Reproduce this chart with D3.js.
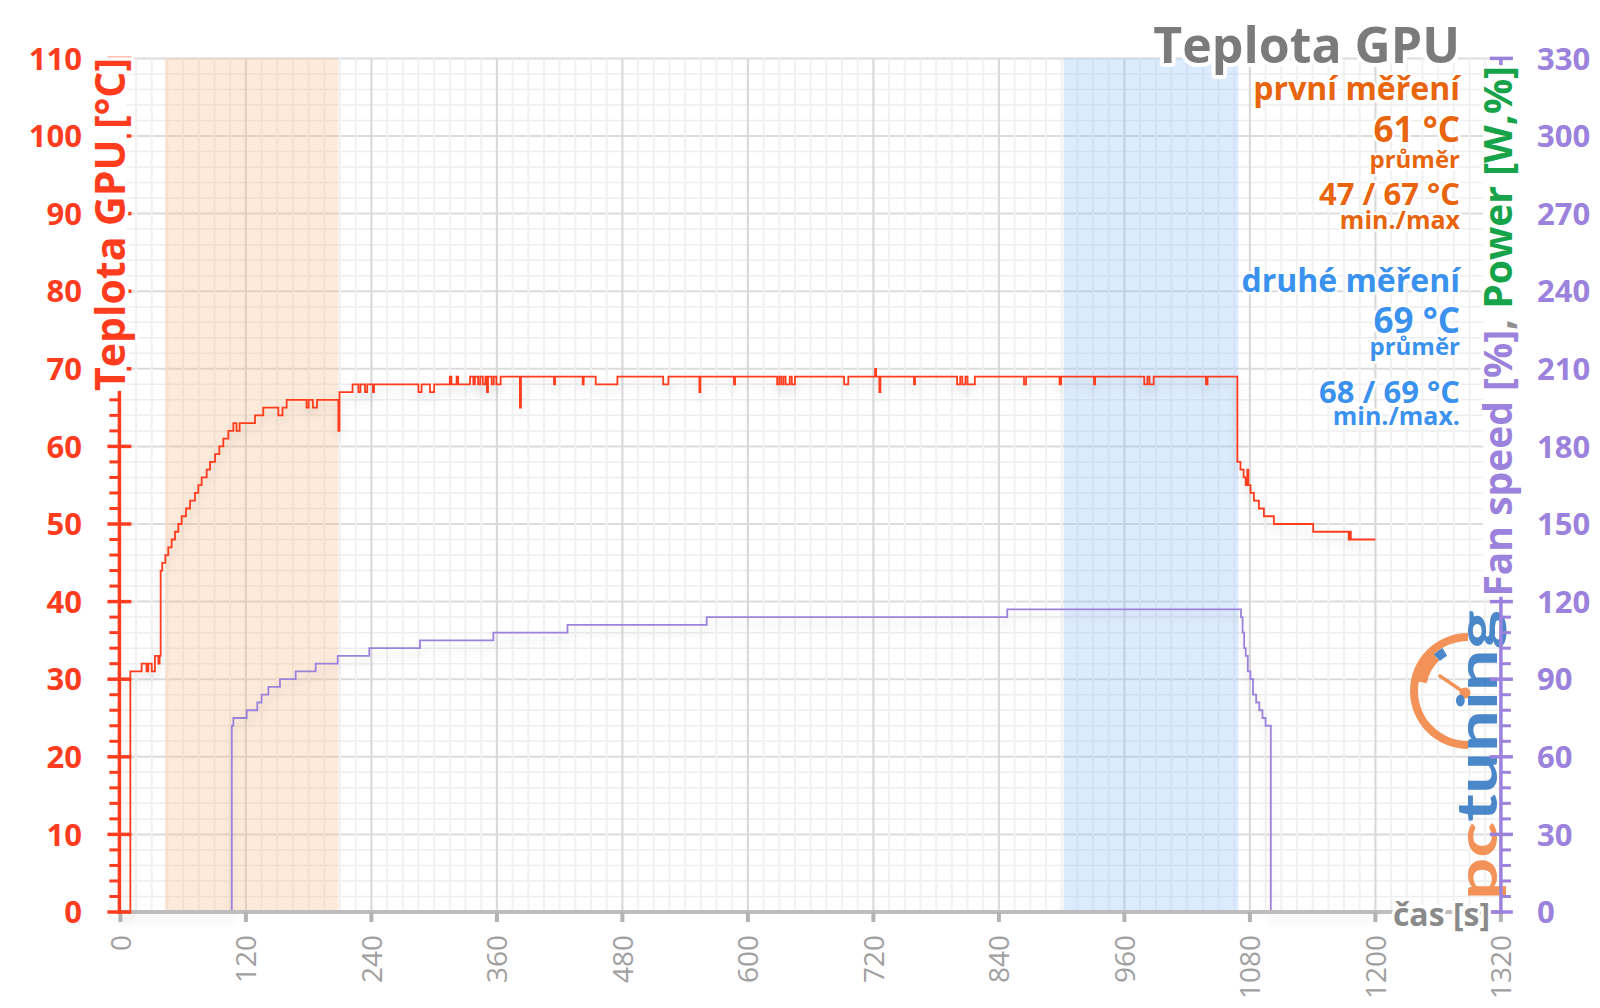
<!DOCTYPE html>
<html><head><meta charset="utf-8">
<script src="https://cdn.jsdelivr.net/npm/d3@7/dist/d3.min.js"></script>
<style>html,body{margin:0;padding:0;background:#fff;} svg{display:block;font-family:"Open Sans",Lato,sans-serif;}</style>
</head><body><svg id="chart" width="1600" height="1008"></svg>
<script>
// ---- data ----
const tempTime = [0,9.5,20.3,25,26.7,30,33,36.3,37.5,38.5,40,43,45.8,49,52.2,55.4,58.6,62.7,66.6,71.3,74.5,77.7,82.5,85.7,90.5,94.6,98.4,103.2,108,111,114,128.7,136.6,151,155,159,178,180,184,188,208.4,209.5,222,227.5,229.5,233.9,236,241.5,242.5,285,288,296,300,315,316.5,321.5,323,334.3,337.5,339,342,344,346.5,349,350.5,351.5,355,357,359.5,363.6,382,383,414.6,415.6,442,443,454.5,475.2,519,524,553.6,554.6,586.7,587.7,628,630,632,634,636,640,642,645,692,696,721.6,722.6,725.7,726.7,758.8,759.8,800,803,805,808,810,817,864,866,898,899.5,931,932,979,982,984,988,1038,1039.5,1068,1071,1074,1076,1077.5,1078.5,1080.6,1083.8,1088.6,1093.4,1102.9,1140.5,1174.5,1175.5,1176.5,1200];
const tempValue = [0,31,32,31,32,31,33,32,33,44,45,46,47,48,49,50,51,52,53,54,55,56,57,58,59,60,61,62,63,62,63,64,65,64,65,66,65,66,65,66,62,67,68,67,68,67,68,67,68,67,68,67,68,69,68,69,68,69,68,69,68,69,68,69,67,69,68,69,68,69,65,69,68,69,68,69,68,69,68,69,67,69,68,69,68,69,68,69,68,69,68,69,68,69,70,69,67,69,68,69,68,69,68,69,68,69,68,69,68,69,68,69,68,69,68,69,68,69,58,57,56,55,57,55,54,53,52,51,50,49,48,49,48,48];
// fan speed, in units of the right axis
const fanTime = [0,106.5,108,120.8,130.9,135,141.5,152.6,167.6,186.7,207.8,238,286.5,356.6,427.5,560.6,848,1071.5,1073,1074.5,1076,1078,1080.5,1083,1086,1089,1092,1095,1100,1200];
const fanValue = [0,72,75,78,81,84,87,90,93,96,99,102,105,108,111,114,117,114,108,102,99,93,90,84,81,78,75,72,0,0];
const xTicks = [0,120,240,360,480,600,720,840,960,1080,1200,1320];
const leftTicks = [0,10,20,30,40,50,60,70,80,90,100,110];
const rightTicks = [0,30,60,90,120,150,180,210,240,270,300,330];
const bandFirst = [42.5,208.5];
const bandSecond = [902,1069];
const legendFirst = ["první měření","61 °C","průměr","47 / 67 °C","min./max"];
const legendSecond = ["druhé měření","69 °C","průměr","68 / 69 °C","min./max."];
const titleText = "Teplota GPU";

// ---- colours ----
const RED = "#ff3c1e", PURPLE = "#9b82dc", ORANGE = "#e8650e", BLUE = "#3b92ee", GREEN = "#16a34a", GRAY = "#7b7b7b";

const svg = d3.select("#chart");
const x = d3.scaleLinear().domain([0,1320]).range([120.4,1500.9]);
const yL = d3.scaleLinear().domain([0,110]).range([912,58.4]);
const yR = d3.scaleLinear().domain([0,330]).range([912,58.4]);

const defs = svg.append("defs");
const f = defs.append("filter").attr("id","shadow").attr("x","-5%").attr("y","-20%").attr("width","110%").attr("height","160%");
f.append("feDropShadow").attr("dx",0).attr("dy",7).attr("stdDeviation",5).attr("flood-color","#000").attr("flood-opacity",0.13);

// grid
const grid = svg.append("g");
grid.selectAll(".hmin").data(d3.range(0,111,2).filter(v=>v%10)).join("line")
  .attr("x1",x(0)).attr("x2",x(1320)).attr("y1",d=>yL(d)).attr("y2",d=>yL(d))
  .attr("stroke","#eeeeee").attr("stroke-width",1.5);
grid.selectAll(".hmaj").data(leftTicks.slice(1)).join("line")
  .attr("x1",x(0)).attr("x2",x(1320)).attr("y1",d=>yL(d)).attr("y2",d=>yL(d))
  .attr("stroke","#dcdcdc").attr("stroke-width",2);
grid.selectAll(".vmin").data(d3.range(0,1321,15).filter(v=>v%120)).join("line")
  .attr("x1",d=>x(d)).attr("x2",d=>x(d)).attr("y1",yL(0)).attr("y2",yL(110))
  .attr("stroke","#f1f1f1").attr("stroke-width",2);
grid.selectAll(".vmaj").data(xTicks.slice(1)).join("line")
  .attr("x1",d=>x(d)).attr("x2",d=>x(d)).attr("y1",yL(0)).attr("y2",yL(110))
  .attr("stroke","#dadada").attr("stroke-width",2.2);

// bands
svg.append("rect").attr("x",x(bandFirst[0])).attr("width",x(bandFirst[1])-x(bandFirst[0]))
  .attr("y",yL(110)).attr("height",yL(0)-yL(110)).attr("fill","rgba(248,185,135,0.3)");
svg.append("rect").attr("x",x(bandSecond[0])).attr("width",x(bandSecond[1])-x(bandSecond[0]))
  .attr("y",yL(110)).attr("height",yL(0)-yL(110)).attr("fill","rgba(140,190,250,0.3)");

// lines
const tempData = tempTime.map((t,i)=>({t, v:tempValue[i]}));
const fanData = fanTime.map((t,i)=>({t, v:fanValue[i]}));
svg.append("path").datum(fanData)
  .attr("d", d3.line().x(d=>x(d.t)).y(d=>yR(d.v)).curve(d3.curveStepAfter))
  .attr("fill","none").attr("stroke",PURPLE).attr("stroke-width",1.8).attr("filter","url(#shadow)");
svg.append("path").datum(tempData)
  .attr("d", d3.line().x(d=>x(d.t)).y(d=>yL(d.v)).curve(d3.curveStepAfter))
  .attr("fill","none").attr("stroke",RED).attr("stroke-width",1.8).attr("filter","url(#shadow)");

// x axis
svg.append("line").attr("x1",x(0)-1).attr("x2",x(1320)).attr("y1",yL(0)).attr("y2",yL(0))
  .attr("stroke","#bdbdbd").attr("stroke-width",4);
svg.selectAll(".xt").data(xTicks).join("rect")
  .attr("x",d=>x(d)-2).attr("y",yL(0)).attr("width",4).attr("height",10).attr("fill","#b3b3b3");
svg.selectAll(".xl").data(xTicks).join("text")
  .attr("transform",d=>`translate(${x(d)+10.5},935) rotate(-90)`)
  .attr("text-anchor","end").attr("font-size",28).attr("fill","#a0a0a0").text(d=>d);

// logo
const logo = svg.append("g").attr("opacity",0.92);
const lc = [1468,691];
logo.append("path").attr("transform",`translate(${lc})`)
  .attr("d", d3.arc()({innerRadius:50, outerRadius:58, startAngle:Math.PI, endAngle:2*Math.PI})).attr("fill","#f28a4c");
logo.append("path").attr("transform",`translate(${lc})`)
  .attr("d", d3.arc()({innerRadius:42, outerRadius:51, startAngle:1.56*Math.PI, endAngle:1.76*Math.PI})).attr("fill","#f28a4c");
logo.append("path").attr("transform",`translate(${lc})`)
  .attr("d", d3.arc()({innerRadius:41, outerRadius:50, startAngle:1.76*Math.PI, endAngle:1.83*Math.PI})).attr("fill","#3b7ec6");
logo.append("line").attr("x1",1465).attr("y1",693).attr("x2",1440).attr("y2",676)
  .attr("stroke","#f28a4c").attr("stroke-width",3.5).attr("stroke-linecap","round");
logo.append("circle").attr("cx",1465).attr("cy",693).attr("r",5.5).attr("fill","#f28a4c");
const lt = logo.append("text").attr("transform","translate(1497,900) rotate(-90) scale(1.33,1)")
  .attr("font-family","Lato").attr("font-size",56).attr("font-weight",700);
lt.append("tspan").attr("fill","#f28a4c").text("pc");
lt.append("tspan").attr("fill","#3b7ec6").text("tuning");

// left axis
const la = svg.append("g").attr("fill",RED);
la.append("line").attr("x1",x(0)-1).attr("x2",x(0)-1).attr("y1",yL(0)+2).attr("y2",yL(110))
  .attr("stroke",RED).attr("stroke-width",3.5);
la.selectAll(".lmin").data(d3.range(0,111,2).filter(v=>v%10)).join("line")
  .attr("x1",x(0)-11).attr("x2",x(0)-1).attr("y1",d=>yL(d)).attr("y2",d=>yL(d))
  .attr("stroke",RED).attr("stroke-width",3);
la.selectAll(".lmaj").data(leftTicks).join("line")
  .attr("x1",x(0)-13).attr("x2",x(0)+11).attr("y1",d=>yL(d)).attr("y2",d=>yL(d))
  .attr("stroke",RED).attr("stroke-width",3.5);
la.selectAll(".ll").data(leftTicks).join("text")
  .attr("x",82).attr("y",d=>yL(d)).attr("dy","0.36em").attr("text-anchor","end")
  .attr("font-size",31).attr("font-weight",700).text(d=>d);

// right axis
const ra = svg.append("g").attr("fill",PURPLE);
ra.append("line").attr("x1",x(1320)).attr("x2",x(1320)).attr("y1",yR(0)+2).attr("y2",yR(330))
  .attr("stroke",PURPLE).attr("stroke-width",3.5);
ra.selectAll(".rmin").data(d3.range(0,331,6).filter(v=>v%30)).join("line")
  .attr("x1",x(1320)).attr("x2",x(1320)+10).attr("y1",d=>yR(d)).attr("y2",d=>yR(d))
  .attr("stroke",PURPLE).attr("stroke-width",3);
ra.selectAll(".rmaj").data(rightTicks).join("line")
  .attr("x1",x(1320)-11).attr("x2",x(1320)+12).attr("y1",d=>yR(d)).attr("y2",d=>yR(d))
  .attr("stroke",PURPLE).attr("stroke-width",3.5);
ra.selectAll(".rl").data(rightTicks).join("text")
  .attr("x",1537).attr("y",d=>yR(d)).attr("dy","0.36em").attr("text-anchor","start")
  .attr("font-size",31).attr("font-weight",700).text(d=>d);

function halo(sel, w){ return sel.attr("paint-order","stroke").attr("stroke","#fff").attr("stroke-width",w||6).attr("stroke-linejoin","round"); }

// axis titles (rotated), with a white backing so the axis line does not show through the gaps
function axisTitle(tx, ty, fs, parts){
  const g = svg.append("g").attr("transform",`translate(${tx},${ty}) rotate(-90)`);
  const bg = g.append("rect").attr("fill","#fff");
  const t = halo(g.append("text").attr("text-anchor","end").attr("font-size",fs).attr("font-weight",700), 7);
  parts.forEach(p=>t.append("tspan").attr("fill",p[1]).text(p[0]));
  const b = t.node().getBBox();
  bg.attr("x",b.x).attr("width",b.width).attr("y",-0.74*fs).attr("height",0.78*fs);
}
axisTitle(125, 58, 41, [["Teplota GPU [°C]", RED]]);
axisTitle(1512, 66, 39, [["Fan speed [%]", PURPLE], [", ", "#8f8f8f"], ["Power [W,%]", GREEN]]);

halo(svg.append("text").attr("x",1490).attr("y",926).attr("text-anchor","end")
  .attr("font-size",32).attr("font-weight",700).attr("fill","#8a8a8a").text("čas [s]"), 6);

// title and legend
const LX = 1460;
halo(svg.append("text").attr("x",LX).attr("y",63).attr("text-anchor","end")
  .attr("font-size",50).attr("font-weight",700).attr("fill",GRAY).text(titleText), 8);
const legY1 = [100,141.5,168,205,229];
const legS = [32,35,24,31,25];
legendFirst.forEach((s,i)=>{
  halo(svg.append("text").attr("x",LX).attr("y",legY1[i]).attr("text-anchor","end")
    .attr("font-size",legS[i]).attr("font-weight",700).attr("fill",ORANGE).text(s), 5);
});
const legY2 = [291.5,333,355,403,425];
legendSecond.forEach((s,i)=>{
  halo(svg.append("text").attr("x",LX).attr("y",legY2[i]).attr("text-anchor","end")
    .attr("font-size",legS[i]).attr("font-weight",700).attr("fill",BLUE).text(s), 5);
});
</script></body></html>
